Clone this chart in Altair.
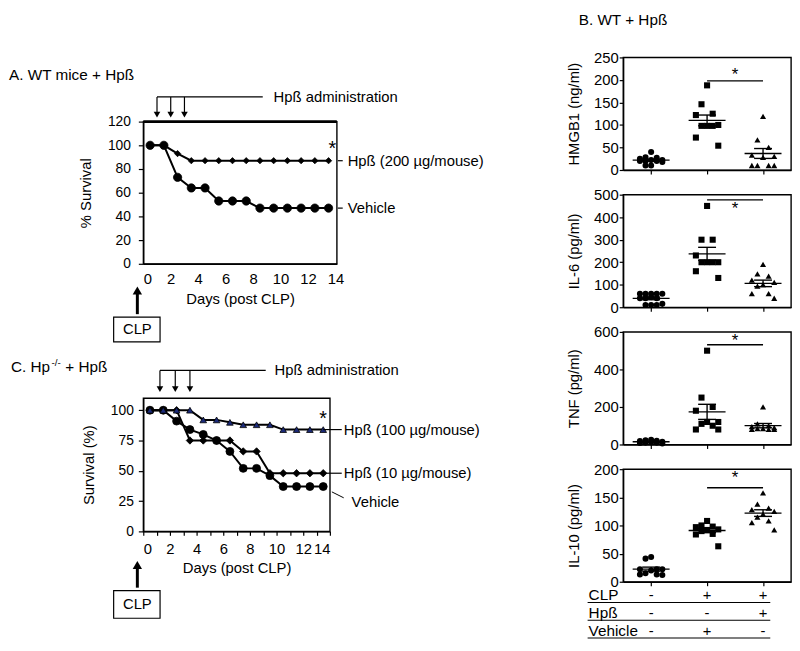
import altair as alt
import pandas as pd

FONT = "Liberation Sans"

# ---------------- Panel A: WT mice + Hpß (survival %) ----------------
A_days = [0.5, 1.5, 2.5, 3.5, 4.5, 5.5, 6.5, 7.5, 8.5, 9.5, 10.5, 11.5, 12.5, 13.5]
A_hp200 = [100, 100, 93, 87, 87, 87, 87, 87, 87, 87, 87, 87, 87, 87]
A_vehicle = [100, 100, 73, 64, 64, 53, 53, 53, 47, 47, 47, 47, 47, 47]
A_dose_days = [1, 2, 3]
A_xticks = [0, 2, 4, 6, 8, 10, 12, 14]
A_yticks = [0, 20, 40, 60, 80, 100, 120]

# ---------------- Panel C: Hp-/- + Hpß (survival %) ----------------
C_days = [0.5, 1.5, 2.5, 3.5, 4.5, 5.5, 6.5, 7.5, 8.5, 9.5, 10.5, 11.5, 12.5, 13.5]
C_hp100 = [100, 100, 100, 100, 92, 92, 90, 88, 88, 88, 84, 84, 84, 84]
C_hp10 = [100, 100, 100, 75, 75, 75, 75, 66, 66, 48, 48, 48, 48, 48]
C_vehicle = [100, 100, 91, 84, 80, 75, 66, 52, 52, 46, 37, 37, 37, 37]
C_dose_days = [1.25, 2.4, 3.5]
C_xticks = [0, 1, 2, 3, 4, 5, 6, 7, 8, 9, 10, 11, 12, 13, 14]
C_yticks = [0, 25, 50, 75, 100]

# ---------------- Panel B: cytokines ----------------
B_groups = [1, 2, 3]
B_shapes = ["circle", "square", "triangle-up"]
HMGB1 = [[40, 28, 27, 25, 22, 22, 20, 20, 20, 18, 10, 10],
         [188, 146, 125, 122, 100, 98, 98, 98, 72, 54],
         [119, 67, 50, 33, 30, 28, 10, 10, 10, 10]]
IL6 = [[60, 60, 60, 60, 60, 45, 40, 40, 40, 15, 10, 10, 10],
       [450, 300, 300, 230, 200, 200, 200, 200, 160, 130],
       [190, 148, 138, 120, 110, 100, 94, 60, 60, 40]]
TNF = [[25, 22, 20, 18, 15, 12, 10, 10, 8, 5],
       [500, 250, 200, 180, 120, 120, 110, 100, 80, 80],
       [200, 110, 100, 95, 90, 85, 85, 80, 80, 80]]
IL10 = [[44, 41, 22, 22, 22, 20, 15, 13, 13, 12],
        [108, 100, 98, 97, 93, 92, 90, 85, 84, 63],
        [158, 138, 131, 128, 125, 120, 115, 108, 105, 92]]
B_titles = ["HMGB1 (ng/ml)", "IL-6 (pg/ml)", "TNF (pg/ml)", "IL-10 (pg/ml)"]
B_data = [HMGB1, IL6, TNF, IL10]
B_ymax = [250, 500, 600, 200]
B_yticks = [[0, 50, 100, 150, 200, 250], [0, 100, 200, 300, 400, 500],
            [0, 200, 400, 600], [0, 50, 100, 150, 200]]
B_sig_y = [198, 477, 532, 167]
B_star_y = [210, 438, 552, 184]

table_rows = ["CLP", "Hpß", "Vehicle"]
table_signs = [["-", "+", "+"], ["-", "-", "+"], ["-", "+", "-"]]


def one():
    return alt.Chart(pd.DataFrame({"t": [0]}))


def text_layer(text, x, y, size=15, align="left", baseline="middle", weight="normal"):
    return alt.Chart(pd.DataFrame({"t": [text]})).mark_text(
        align=align, baseline=baseline, fontSize=size, font=FONT, color="black",
        fontWeight=weight).encode(x=x, y=y, text="t:N")


def rule_layer(width=1.2, **enc):
    return one().mark_rule(color="black", strokeWidth=width).encode(**enc)


def head_layer(shape, size, **enc):
    return one().mark_point(shape=shape, size=size, filled=True, color="black",
                            opacity=1).encode(**enc)


def survival(days, series, w, h, xdom, ymax, xaxis, yaxis):
    df = pd.DataFrame({"day": days})
    for i, s in enumerate(series):
        df[f"s{i}"] = s[0]
    base = alt.Chart(df)
    X = alt.X("day:Q", scale=alt.Scale(domain=xdom, nice=False, zero=False), axis=xaxis)
    layers = []
    for i, (vals, shape, size, fill) in enumerate(series):
        Y = alt.Y(f"s{i}:Q", scale=alt.Scale(domain=[0, ymax], nice=False), axis=yaxis)
        layers.append(base.mark_line(color="black", strokeWidth=2).encode(x=X, y=Y))
        layers.append(base.mark_point(shape=shape, size=size, filled=True, fill=fill,
                                      stroke="black", strokeWidth=0.8, opacity=1)
                      .encode(x=X, y=Y))
    return layers, X


def dose_arrows(dose_days, X, ytop, ytip, xend, label_x):
    d = alt.Chart(pd.DataFrame({"day": dose_days}))
    return [
        rule_layer(1.2, x=alt.datum(dose_days[0]), x2=alt.value(xend), y=alt.value(ytop)),
        d.mark_rule(color="black", strokeWidth=1.2).encode(x=X, y=alt.value(ytop), y2=alt.value(ytip - 4)),
        d.mark_point(shape="triangle-down", size=45, filled=True, color="black", opacity=1)
         .encode(x=X, y=alt.value(ytip - 3)),
        text_layer("Hpß administration", alt.value(label_x), alt.value(ytop), size=15),
    ]


def clp_marker(xc, tip, tail, box_top, box_bot):
    return [
        rule_layer(3, x=alt.value(xc), y=alt.value(tip + 4), y2=alt.value(tail)),
        head_layer("triangle-up", 90, x=alt.value(xc), y=alt.value(tip + 4)),
        one().mark_rect(fill="white", stroke="black", strokeWidth=1.2).encode(
            x=alt.value(xc - 24), x2=alt.value(xc + 23), y=alt.value(box_top), y2=alt.value(box_bot)),
        text_layer("CLP", alt.value(xc), alt.value((box_top + box_bot) / 2), size=15, align="center"),
    ]


# ----- Panel A -----
wA, hA = 196, 144
axAx = alt.Axis(values=A_xticks, tickCount=30, format="d", ticks=False, tickSize=0, labelPadding=8,
                labelFontSize=15, labelOverlap=False, title="Days (post CLP)", titlePadding=5)
axAy = alt.Axis(values=A_yticks, tickCount=30, format="d", tickSize=5, labelPadding=8,
                labelOverlap=False, title="% Survival", titlePadding=14)
layersA, XA = survival(A_days, [(A_vehicle, "circle", 70, "black"),
                                (A_hp200, "diamond", 40, "black")],
                       wA, hA, [0, 14.1], 120, axAx, axAy)
annA = [
    rule_layer(3, x=alt.value(0), x2=alt.value(wA), y=alt.value(0)),
    text_layer("A. WT mice + Hpß", alt.value(-136), alt.value(-47), size=15.5),
    text_layer("*", alt.datum(13.5), alt.datum(97), size=20),
    rule_layer(1.2, x=alt.value(wA + 1), x2=alt.value(wA + 6), y=alt.datum(87)),
    text_layer("Hpß (200 µg/mouse)", alt.value(wA + 11), alt.datum(87)),
    rule_layer(1.2, x=alt.value(wA + 1), x2=alt.value(wA + 6), y=alt.datum(47)),
    text_layer("Vehicle", alt.value(wA + 11), alt.datum(47)),
] + dose_arrows(A_dose_days, XA, -25, -4, 121, 132) + clp_marker(-6, hA + 23, hA + 51, hA + 54, hA + 79)
chartA = alt.layer(*layersA, *annA).properties(width=wA, height=hA)

# ----- Panel C -----
wC, hC = 189, 135
axCx = alt.Axis(values=C_xticks, tickCount=30, format="d", tickSize=4, labelPadding=6,
                labelFontSize=15, labelOverlap=False,
                labelExpr="datum.value % 2 == 0 ? datum.label : ''",
                title="Days (post CLP)", titlePadding=5)
axCy = alt.Axis(values=C_yticks, tickCount=30, format="d", tickSize=5, labelPadding=5,
                labelOverlap=False, title="Survival (%)", titlePadding=14)
layersC, XC = survival(C_days, [(C_vehicle, "circle", 65, "black"),
                                (C_hp10, "diamond", 55, "black"),
                                (C_hp100, "triangle-up", 45, "#1b2a78")],
                       wC, hC, [0, 14], 110, axCx, axCy)
annC = [
    text_layer("C. Hp", alt.value(-134), alt.value(-31), size=15.5),
    text_layer("-/-", alt.value(-93), alt.value(-36), size=10),
    text_layer("+ Hpß", alt.value(-79), alt.value(-31), size=15.5),
    text_layer("*", alt.datum(13.2), alt.datum(93), size=20),
    rule_layer(1.2, x=alt.datum(13.5), x2=alt.value(wC + 12), y=alt.datum(84)),
    text_layer("Hpß (100 µg/mouse)", alt.value(wC + 14), alt.datum(84)),
    rule_layer(1.2, x=alt.datum(13.5), x2=alt.value(wC + 12), y=alt.datum(48)),
    text_layer("Hpß (10 µg/mouse)", alt.value(wC + 14), alt.datum(48)),
    rule_layer(1.0, x=alt.value(wC + 2), x2=alt.value(wC + 14), y=alt.value(95), y2=alt.value(101)),
    text_layer("Vehicle", alt.value(wC + 22), alt.value(105)),
] + dose_arrows(C_dose_days, XC, -28, -6, 124, 133) + clp_marker(-6, hC + 30, hC + 57, hC + 60, hC + 88)
chartC = alt.layer(*layersC, *annC).properties(width=wC, height=hC)

# ----- Panel B -----
wB, hB = 170, 114


def b_panel(k):
    rows = []
    for g, vals in zip(B_groups, B_data[k]):
        for v in vals:
            rows.append({"g": g, "v": v})
    df = pd.DataFrame(rows)
    xs = alt.Scale(domain=[0.5, 3.5], nice=False, zero=False)
    ys = alt.Scale(domain=[0, B_ymax[k]], nice=False)
    xax = alt.Axis(values=B_groups, tickCount=30, labels=False, tickSize=4, title=None)
    yax = alt.Axis(values=B_yticks[k], tickCount=30, format="d", tickSize=4, labelPadding=1,
                   labelFontSize=15, labelOverlap=False, title=B_titles[k], titlePadding=12)
    X = alt.X("xpos:Q", scale=xs, axis=xax)
    Y = alt.Y("v:Q", scale=ys, axis=yax)
    base = alt.Chart(df)
    pts = base.transform_window(
        rank="row_number()", groupby=["g"], sort=[alt.SortField("v", order="descending")]
    ).transform_calculate(
        idx="(datum.rank - 1) % 5",
    ).transform_calculate(
        xpos="datum.g + (datum.idx == 0 ? 0 : datum.idx == 1 ? -0.1 : datum.idx == 2 ? 0.1 : datum.idx == 3 ? -0.2 : 0.2)"
    ).mark_point(filled=True, color="black", opacity=1, size=38).encode(
        x=X, y=Y,
        shape=alt.Shape("g:N", scale=alt.Scale(domain=B_groups, range=B_shapes), legend=None))
    stats = base.transform_aggregate(
        m="mean(v)", se="stderr(v)", groupby=["g"]
    ).transform_calculate(
        lo="datum.m - datum.se", hi="datum.m + datum.se",
        ml="datum.g - 0.33", mr="datum.g + 0.33",
        cl="datum.g - 0.16", cr="datum.g + 0.16", xpos="datum.g")
    R = dict(color="black", strokeWidth=1.4)
    mean = stats.mark_rule(**R).encode(x=alt.X("ml:Q", scale=xs, axis=xax), x2="mr:Q",
                                        y=alt.Y("m:Q", scale=ys, axis=yax))
    bar = stats.mark_rule(**R).encode(x=X, y=alt.Y("lo:Q", scale=ys, axis=yax), y2="hi:Q")
    capl = stats.mark_rule(**R).encode(x=alt.X("cl:Q", scale=xs, axis=xax), x2="cr:Q",
                                        y=alt.Y("lo:Q", scale=ys, axis=yax))
    caph = stats.mark_rule(**R).encode(x=alt.X("cl:Q", scale=xs, axis=xax), x2="cr:Q",
                                        y=alt.Y("hi:Q", scale=ys, axis=yax))
    sig = rule_layer(1.4, x=alt.datum(2), x2=alt.datum(3), y=alt.datum(B_sig_y[k]))
    star = text_layer("*", alt.datum(2.5), alt.datum(B_star_y[k]), size=17, align="center")
    layers = [pts, mean, bar, capl, caph, sig, star]
    if k == 0:
        layers.append(text_layer("B. WT + Hpß", alt.value(-45), alt.value(-38), size=15.5))
    if k == 3:
        ys_rows = [127, 146, 164]
        ys_lines = [135, 153, 171]
        for r, (lab, signs) in enumerate(zip(table_rows, table_signs)):
            layers.append(text_layer(lab, alt.value(-35), alt.value(ys_rows[r]), size=15.5))
            tdf = pd.DataFrame({"g": B_groups, "s": signs})
            layers.append(alt.Chart(tdf).mark_text(font=FONT, fontSize=15, color="black",
                                                   baseline="middle", align="center")
                          .encode(x=alt.X("g:Q", scale=xs, axis=xax), y=alt.value(ys_rows[r]),
                                  text="s:N"))
            layers.append(rule_layer(1.2, x=alt.value(-36), x2=alt.value(149),
                                     y=alt.value(ys_lines[r])))
    return alt.layer(*layers).properties(width=wB, height=hB)


spacer = one().mark_point(opacity=0).encode(x=alt.value(0), y=alt.value(0)).properties(
    width=10, height=65, view=alt.ViewBackground(stroke="transparent"))

left = alt.vconcat(spacer, alt.vconcat(chartA, chartC, spacing=136, bounds="flush"),
                   spacing=0, bounds="flush")
right = alt.vconcat(*[b_panel(k) for k in range(4)], spacing=25, bounds="flush")

chart = alt.hconcat(left, right, spacing=486, bounds="flush").properties(
    padding=0
).configure_view(
    stroke="black", strokeWidth=1.4
).configure_axis(
    labelFont=FONT, titleFont=FONT, labelFontSize=14, titleFontSize=15,
    titleFontWeight="normal", labelColor="black", titleColor="black",
    domainColor="black", tickColor="black", grid=False, domainWidth=1.4, tickWidth=1.2,
    labelOverlap=False
)

chart.save("out.html", embed_options={"renderer": "svg", "actions": False})
